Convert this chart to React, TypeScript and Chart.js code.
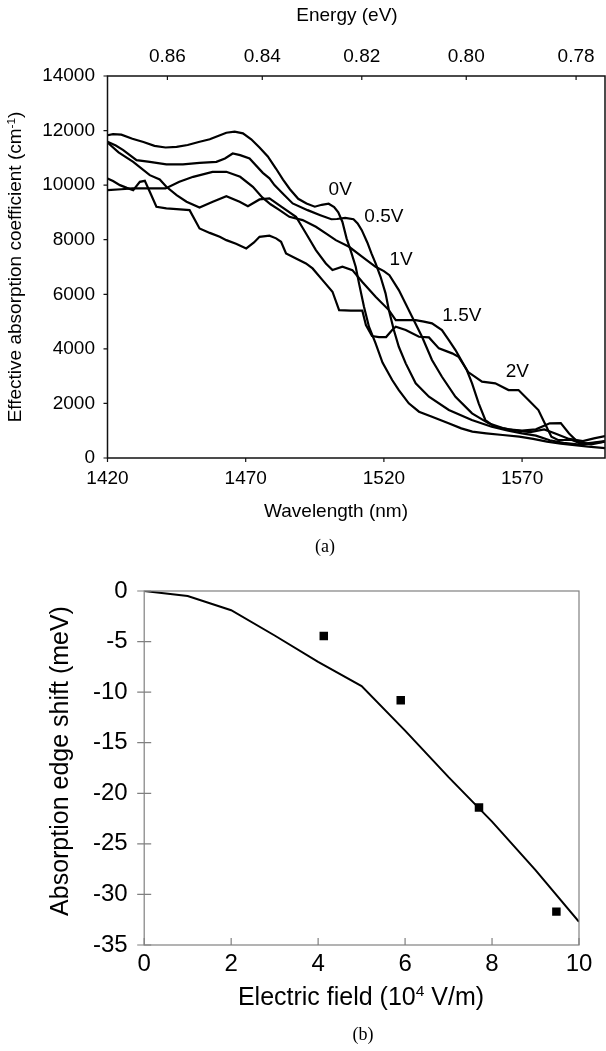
import React, { useEffect, useRef } from 'react';
import { Chart, registerables } from 'chart.js';
Chart.register(...registerables);

const HC = 1239.84;
const SANS = '"Liberation Sans", Arial, sans-serif';
const SERIF = '"Liberation Serif", "Times New Roman", serif';

// ---------- Panel (a) data ----------
const wavelengthTicks = [1420, 1470, 1520, 1570];
const energyTicks = [0.86, 0.84, 0.82, 0.8, 0.78];

const wl0V = [1420,1422,1425,1429,1433,1437,1441,1445,1449,1453,1457,1460,1463,1466,1469,1472,1475,1478,1481,1483.5,1486,1489,1492,1495,1497.5,1500,1502,1503.5,1505,1506.5,1508,1509.8,1511,1512.8,1514.6,1517,1519.5,1523,1525.4,1529,1532.7,1537.4,1543.4,1548,1552,1557,1563,1569,1574,1579,1584,1589,1594,1600];
const abs0V = [11830,11870,11850,11700,11580,11440,11380,11400,11470,11580,11680,11800,11920,11960,11900,11680,11380,11050,10600,10200,9850,9500,9330,9210,9280,9320,9200,9000,8650,8050,7600,7008,6400,5543,4810,4200,3500,2857,2490,2004,1696,1514,1270,1087,965,904,843,781,700,600,530,470,420,360];

const wl05V = [1420,1423,1425.7,1430.5,1435.3,1441.3,1447.3,1453.3,1459.4,1462.5,1465.3,1468,1471.4,1476.2,1478.6,1480.4,1483.4,1487,1492.4,1497,1501,1503,1506,1509,1510.5,1512,1514,1515.5,1517,1518.8,1520.6,1521.8,1523.6,1525.4,1527.9,1531.5,1536.3,1543.5,1551.8,1559,1565,1570,1575,1580,1585,1590,1595,1600];
const abs05V = [11590,11450,11285,10916,10855,10758,10758,10818,10855,10980,11160,11100,10978,10450,10250,10000,9696,9330,9084,8900,8750,8760,8800,8750,8600,8350,7900,7500,7131,6642,6033,5421,4689,4077,3468,2736,2245,1758,1392,1147,1000,900,820,650,560,500,560,620];

const wl1V = [1420,1425,1429,1435,1441,1446,1451,1458,1463,1468,1472.6,1476,1479,1482,1485.8,1490.6,1495.4,1499,1502.6,1507.4,1512.2,1517,1520,1522,1525.4,1530.2,1533.8,1537.4,1541,1545.9,1551.9,1557.9,1563,1568,1573,1578,1582,1587,1592,1596,1600];
const abs1V = [9817,9850,9879,9879,9879,10122,10305,10488,10488,10305,9940,9550,9300,9100,8839,8718,8473,8230,7985,7740,7374,7008,6850,6700,6154,5176,4443,3590,2978,2245,1637,1271,1100,1000,950,1050,900,700,620,720,800];

const wl15V = [1420,1424,1429.3,1435.3,1438.9,1441.3,1445,1448.6,1453.3,1458.1,1463,1467.8,1470.8,1475,1478.6,1483,1488.2,1492,1495.4,1499,1501.4,1505,1508.6,1512.2,1517,1521.8,1524.3,1528,1531.5,1534.5,1537.4,1541,1543.5,1545.9,1550,1551.9,1554.3,1556.7,1560,1565,1570,1575,1580,1584,1587,1590,1595,1600];
const abs15V = [11560,11200,10855,10366,10207,9940,9634,9390,9183,9390,9597,9390,9231,9476,9512,9200,8840,8200,7619,7130,6887,7008,6887,6450,5909,5421,5055,5055,5055,5000,4933,4689,4322,3956,3223,2736,2004,1392,1150,1050,1000,1050,1270,1280,900,600,500,600];

const wl2V = [1420,1422,1424.5,1427,1429.3,1431.7,1433.5,1435.3,1437.7,1441.3,1445,1449.7,1453.3,1457,1460.6,1463,1466.5,1470.2,1473,1475,1478.6,1481,1482.8,1484.6,1488.2,1491.8,1494.2,1497.8,1501.4,1503.8,1508,1512.2,1513.5,1515.7,1518.2,1520.8,1523,1524.3,1527.9,1532.7,1536.3,1539.9,1544.7,1547,1550.5,1555.5,1560.3,1565.1,1568.7,1572.3,1575.9,1578.2,1580.6,1583,1588,1592,1596,1600];
const abs2V = [10245,10150,10000,9900,9817,10122,10158,9755,9207,9146,9120,9084,8413,8250,8107,7985,7850,7681,7900,8107,8150,8050,7924,7497,7314,7131,6948,6520,6093,5421,5400,5400,4872,4469,4432,4432,4689,4810,4690,4443,4420,4018,3835,3710,3150,2796,2736,2490,2490,2125,1758,1270,780,660,660,500,550,600];

const curveLabels = ['0V', '0.5V', '1V', '1.5V', '2V'];
const labelWl = [1504.2, 1520.0, 1526.2, 1548.2, 1568.3];
const labelAbs = [9817, 8828, 7253, 5201, 3150];

// ---------- Panel (b) data ----------
const fieldCalc = [0, 1, 2, 3, 4, 5, 6, 7, 8, 9, 10];
const shiftCalc = [0, -0.5, -1.9, -4.4, -7.0, -9.4, -13.8, -18.4, -22.8, -27.6, -32.7];
const fieldMeas = [4.13, 5.9, 7.7, 9.48];
const shiftMeas = [-4.45, -10.8, -21.4, -31.7];

type Part = { t: string; sup?: boolean };

function drawRich(ctx: CanvasRenderingContext2D, parts: Part[], x: number, y: number, size: number, family: string, rotate = false) {
  ctx.save();
  ctx.translate(x, y);
  if (rotate) ctx.rotate(-Math.PI / 2);
  const supSize = size * 0.62;
  let total = 0;
  const widths = parts.map((p) => {
    ctx.font = `${p.sup ? supSize : size}px ${family}`;
    const w = ctx.measureText(p.t).width;
    total += w;
    return w;
  });
  let cx = -total / 2;
  ctx.textBaseline = 'middle';
  ctx.textAlign = 'left';
  ctx.fillStyle = '#000';
  parts.forEach((p, i) => {
    ctx.font = `${p.sup ? supSize : size}px ${family}`;
    ctx.fillText(p.t, cx, p.sup ? -size * 0.24 : 0);
    cx += widths[i];
  });
  ctx.restore();
}

const toPoints = (xs: number[], ys: number[]) => xs.map((x, i) => ({ x, y: ys[i] }));

const panelAPlugin = {
  id: 'panelA',
  afterDraw(chart: any) {
    const { ctx, chartArea: a, scales } = chart;
    ctx.save();
    ctx.strokeStyle = '#111';
    ctx.lineWidth = 1.5;
    ctx.strokeRect(a.left, a.top, a.right - a.left, a.bottom - a.top);
    ctx.lineWidth = 1.2;
    ctx.beginPath();
    scales.y.ticks.forEach((t: any) => {
      const py = scales.y.getPixelForValue(t.value);
      ctx.moveTo(a.left - 4, py);
      ctx.lineTo(a.left, py);
    });
    scales.x.ticks.forEach((t: any) => {
      const px = scales.x.getPixelForValue(t.value);
      ctx.moveTo(px, a.bottom);
      ctx.lineTo(px, a.bottom + 4);
    });
    scales.x2.ticks.forEach((t: any) => {
      const px = scales.x2.getPixelForValue(t.value);
      ctx.moveTo(px, a.top);
      ctx.lineTo(px, a.top + 4);
    });
    ctx.stroke();
    // curve labels
    ctx.fillStyle = '#000';
    ctx.font = `19px ${SANS}`;
    ctx.textAlign = 'center';
    ctx.textBaseline = 'middle';
    curveLabels.forEach((lab, i) => {
      ctx.fillText(lab, scales.x.getPixelForValue(labelWl[i]), scales.y.getPixelForValue(labelAbs[i]));
    });
    ctx.restore();
    // axis titles
    drawRich(ctx, [{ t: 'Energy (eV)' }], 347, 16, 19, SANS);
    drawRich(ctx, [{ t: 'Wavelength (nm)' }], 336, 512, 19, SANS);
    drawRich(ctx, [{ t: 'Effective absorption coefficient (cm' }, { t: '-1', sup: true }, { t: ')' }], 16, 267, 19, SANS, true);
    drawRich(ctx, [{ t: '(a)' }], 325, 547, 18, SERIF);
  },
};

const panelBPlugin = {
  id: 'panelB',
  afterDraw(chart: any) {
    const { ctx, chartArea: a, scales } = chart;
    ctx.save();
    ctx.strokeStyle = '#808080';
    ctx.lineWidth = 1.2;
    ctx.strokeRect(a.left, a.top, a.right - a.left, a.bottom - a.top);
    ctx.beginPath();
    scales.y.ticks.forEach((t: any) => {
      const py = scales.y.getPixelForValue(t.value);
      ctx.moveTo(a.left - 7, py);
      ctx.lineTo(a.left + 7, py);
    });
    scales.x.ticks.forEach((t: any) => {
      const px = scales.x.getPixelForValue(t.value);
      ctx.moveTo(px, a.bottom);
      ctx.lineTo(px, a.bottom - 7);
    });
    ctx.stroke();
    ctx.restore();
    drawRich(ctx, [{ t: 'Electric field (10' }, { t: '4', sup: true }, { t: ' V/m)' }], 361, 438, 25, SANS);
    drawRich(ctx, [{ t: 'Absorption edge shift (meV)' }], 61, 201, 25, SANS, true);
    drawRich(ctx, [{ t: '(b)' }], 363, 475, 18, SERIF);
  },
};

export default function App() {
  const refA = useRef<HTMLCanvasElement>(null);
  const refB = useRef<HTMLCanvasElement>(null);

  useEffect(() => {
    const curveSets = [
      [wl0V, abs0V],
      [wl05V, abs05V],
      [wl1V, abs1V],
      [wl15V, abs15V],
      [wl2V, abs2V],
    ];
    const tickFontA = { family: SANS, size: 19 };
    const chartA = new Chart(refA.current as HTMLCanvasElement, {
      type: 'scatter',
      data: {
        datasets: curveSets.map(([xs, ys], i) => ({
          label: curveLabels[i],
          data: toPoints(xs, ys),
          showLine: true,
          borderColor: '#000',
          backgroundColor: '#000',
          borderWidth: 2.2,
          pointRadius: 0,
          tension: 0,
        })),
      },
      options: {
        responsive: false,
        animation: false,
        layout: { padding: { left: 0, right: 1, top: 0, bottom: 0 } },
        plugins: { legend: { display: false }, tooltip: { enabled: false } },
        scales: {
          x: {
            type: 'linear',
            position: 'bottom',
            min: 1420,
            max: 1600,
            afterBuildTicks: (s: any) => { s.ticks = wavelengthTicks.map((v) => ({ value: v })); },
            afterFit: (s: any) => { s.height = 102; },
            grid: { display: false, drawTicks: false },
            border: { display: false },
            ticks: { autoSkip: false, maxRotation: 0, padding: 9, color: '#000', font: tickFontA, callback: (v: any) => String(v) },
          },
          x2: {
            type: 'linear',
            position: 'top',
            min: 1420,
            max: 1600,
            afterBuildTicks: (s: any) => { s.ticks = energyTicks.map((e) => ({ value: HC / e })); },
            afterFit: (s: any) => { s.height = 76; },
            grid: { display: false, drawTicks: false },
            border: { display: false },
            ticks: { autoSkip: false, maxRotation: 0, padding: 7.5, color: '#000', font: tickFontA, callback: (v: any) => (HC / Number(v)).toFixed(2) },
          },
          y: {
            type: 'linear',
            position: 'left',
            min: 0,
            max: 14000,
            afterFit: (s: any) => { s.width = 107.5; },
            grid: { display: false, drawTicks: false },
            border: { display: false },
            ticks: { stepSize: 2000, padding: 12.5, color: '#000', font: tickFontA, callback: (v: any) => String(v) },
          },
        },
      } as any,
      plugins: [panelAPlugin],
    });

    const tickFontB = { family: SANS, size: 24 };
    const chartB = new Chart(refB.current as HTMLCanvasElement, {
      type: 'scatter',
      data: {
        datasets: [
          {
            label: 'calculated',
            data: toPoints(fieldCalc, shiftCalc),
            showLine: true,
            borderColor: '#000',
            borderWidth: 2,
            pointRadius: 0,
            tension: 0,
          },
          {
            label: 'measured',
            data: toPoints(fieldMeas, shiftMeas),
            showLine: false,
            pointStyle: 'rect',
            pointRadius: 6,
            backgroundColor: '#000',
            borderColor: '#000',
            borderWidth: 0,
          },
        ],
      },
      options: {
        responsive: false,
        animation: false,
        layout: { padding: { left: 0, right: 27, top: 21, bottom: 0 } },
        plugins: { legend: { display: false }, tooltip: { enabled: false } },
        scales: {
          x: {
            type: 'linear',
            min: 0,
            max: 10,
            afterFit: (s: any) => { s.height = 106; },
            grid: { display: false, drawTicks: false },
            border: { display: false },
            ticks: { stepSize: 2, autoSkip: false, maxRotation: 0, padding: 4.5, color: '#000', font: tickFontB },
          },
          y: {
            type: 'linear',
            min: -35,
            max: 0,
            afterFit: (s: any) => { s.width = 144.2; },
            grid: { display: false, drawTicks: false },
            border: { display: false },
            ticks: { stepSize: 5, padding: 16.6, color: '#000', font: tickFontB },
          },
        },
      } as any,
      plugins: [panelBPlugin],
    });

    return () => {
      chartA.destroy();
      chartB.destroy();
    };
  }, []);

  return (
    <div style={{ position: 'absolute', left: 0, top: 0, width: 606, height: 1051, background: '#fff' }}>
      <canvas ref={refA} width={606} height={560} style={{ position: 'absolute', left: 0, top: 0, width: 606, height: 560 }} />
      <canvas ref={refB} width={606} height={491} style={{ position: 'absolute', left: 0, top: 560, width: 606, height: 491 }} />
    </div>
  );
}
